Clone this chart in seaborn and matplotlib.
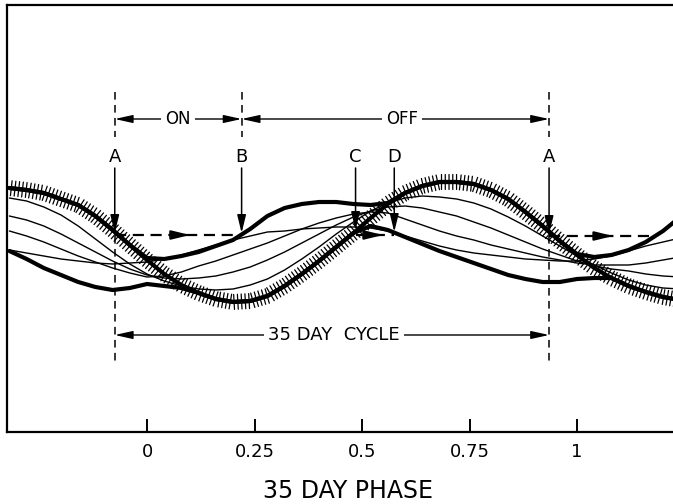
import numpy as np
import pandas as pd
import matplotlib
matplotlib.use("Agg")
import matplotlib.pyplot as plt
from matplotlib import patheffects as pe
import seaborn as sns

# ---------------- data ----------------
phase = [-0.32, -0.28, -0.24, -0.20, -0.16, -0.12, -0.08, -0.04, 0.00, 0.04,
         0.08, 0.12, 0.16, 0.20, 0.24, 0.28, 0.32, 0.36, 0.40, 0.44,
         0.48, 0.52, 0.56, 0.60, 0.64, 0.68, 0.72, 0.76, 0.80, 0.84,
         0.88, 0.92, 0.96, 1.00, 1.04, 1.08, 1.12, 1.16, 1.20, 1.24]

# hatched curve
hatched = [244, 242, 239, 233, 227, 216, 202, 187, 172, 158,
           147, 139, 133, 130, 131, 136, 146, 158, 171, 185,
           199, 214, 228, 239, 246, 250, 250, 248, 242, 233,
           220, 206, 191, 177, 164, 154, 146, 140, 135, 132]
# upper thick curve
upper = [244, 242, 239, 233, 227, 216, 202, 187, 174, 173,
         176, 180, 186, 192, 203, 216, 224, 228, 230, 230,
         228, 227, 229, 239, 246, 250, 250, 248, 242, 233,
         220, 206, 191, 178, 175, 177, 182, 190, 201, 215]
# lower thick curve
lower = [181, 173, 164, 157, 150, 145, 142, 144, 148, 146,
         144, 139, 133, 130, 131, 136, 146, 158, 171, 185,
         199, 206, 202, 195, 188, 181, 175, 169, 163, 157,
         153, 150, 150, 153, 154, 154, 146, 140, 135, 132]
# thin intermediate curves
thin1 = [234, 231, 225, 217, 206, 193, 180, 168, 158, 151,
         146, 143, 142, 143, 147, 153, 162, 173, 185, 198,
         210, 221, 229, 234, 236, 235, 233, 229, 223, 215,
         206, 196, 186, 176, 167, 159, 152, 147, 144, 143]
thin2 = [216, 212, 206, 198, 189, 180, 171, 163, 157, 154,
         153, 154, 156, 160, 165, 172, 180, 189, 198, 207,
         215, 221, 225, 226, 224, 220, 216, 210, 204, 197,
         190, 183, 177, 171, 166, 163, 161, 158, 156, 155]
thin3 = [201, 196, 190, 183, 176, 170, 164, 159, 155, 156,
         160, 166, 171, 177, 183, 189, 196, 203, 209, 214,
         218, 220, 219, 213, 207, 201, 196, 192, 187, 183,
         179, 175, 172, 169, 167, 167, 167, 169, 172, 175]
thin4 = [182, 179, 176, 173, 171, 169, 168, 169, 170, 173,
         177, 182, 187, 192, 196, 200, 201, 203, 204, 205,
         205, 204, 201, 196, 191, 186, 182, 179, 177, 175,
         173, 172, 171, 171, 173, 176, 181, 186, 190, 194]

tick_pos = [0, 0.25, 0.5, 0.75, 1]
tick_labels = ["0", "0.25", "0.5", "0.75", "1"]

# marker phases
pA1, pB, pC, pD, pA2 = -0.075, 0.22, 0.485, 0.575, 0.935

# ---------------- figure ----------------
sns.set_style("white")
plt.rcParams["font.family"] = ["DejaVu Sans"]
plt.rcParams["text.color"] = "black"
plt.rcParams["axes.labelcolor"] = "black"

df = pd.concat([
    pd.DataFrame({"phase": phase, "value": v, "curve": n})
    for n, v in [("thin1", thin1), ("thin2", thin2), ("thin3", thin3),
                 ("thin4", thin4), ("upper", upper), ("lower", lower),
                 ("hatched", hatched)]
], ignore_index=True)

fig = plt.figure(figsize=(6.73, 5.04), dpi=100)
ax = fig.add_axes([7 / 673, 72 / 504, 1.0131, 427 / 504])

for name in ["thin1", "thin2", "thin3", "thin4"]:
    sns.lineplot(data=df[df.curve == name], x="phase", y="value", color="black",
                 linewidth=1.0, ax=ax, legend=False, zorder=2)
for name in ["upper", "lower"]:
    sns.lineplot(data=df[df.curve == name], x="phase", y="value", color="black",
                 linewidth=3.0, ax=ax, legend=False, zorder=3,
                 solid_capstyle="round", solid_joinstyle="round")
sns.lineplot(data=df[df.curve == "hatched"], x="phase", y="value", color="black",
             linewidth=3.0, ax=ax, legend=False, zorder=4,
             solid_joinstyle="round")
ax.lines[-1].set_path_effects([
    pe.TickedStroke(angle=90, spacing=2.7, length=2.0, linewidth=0.9),
    pe.TickedStroke(angle=-90, spacing=2.7, length=2.0, linewidth=0.9),
    pe.Normal()])

ax.set_xlim(-0.3256, 1.26)
ax.set_ylim(0, 427)

# spines & ticks
for s in ["left", "bottom", "top"]:
    ax.spines[s].set_linewidth(1.6)
    ax.spines[s].set_color("black")
ax.spines["right"].set_visible(False)
ax.set_yticks([])
ax.set_xticks(tick_pos)
ax.set_xticklabels(tick_labels)
ax.tick_params(axis="x", direction="in", length=9.5, width=1.4, pad=8,
               labelsize=13, colors="black", bottom=True)
ax.set_xlabel("35 DAY PHASE", fontsize=17, labelpad=13, color="black")
ax.set_ylabel("")

# dashed verticals
dash = dict(color="black", lw=1.1, ls=(0, (5, 3.5)))
for p in [pA1, pA2]:
    ax.plot([p, p], [340, 295], **dash)
    ax.plot([p, p], [196, 70], **dash)
ax.plot([pB, pB], [340, 295], **dash)

ahead = "-|>,head_length=0.9,head_width=0.22"
# letters with arrows down
for p, lab, tip in [(pA1, "A", 199), (pB, "B", 199), (pC, "C", 202),
                    (pD, "D", 200), (pA2, "A", 198)]:
    ax.text(p, 275, lab, ha="center", va="center", fontsize=13, color="black")
    ax.annotate("", xy=(p, tip), xytext=(p, 264),
                arrowprops=dict(arrowstyle=ahead, color="black", lw=1.1,
                                shrinkA=0, shrinkB=0, mutation_scale=12))

# dashed horizontal arrows
for x0, x1, xh, yv in [(pA1, pB, 0.10, 197), (pC, pD, 0.549, 197),
                       (pA2, 1.174, 1.084, 196)]:
    ax.plot([x0, x1], [yv, yv], color="black", lw=1.6, ls=(0, (5, 3)))
    ax.annotate("", xy=(xh, yv), xytext=(xh - 0.02, yv),
                arrowprops=dict(arrowstyle=ahead, color="black", lw=1.6,
                                shrinkA=0, shrinkB=0, mutation_scale=12))

# dimension lines
dim = "<|-|>,head_length=0.9,head_width=0.2"
for x0, x1, yv, txt, xt, fs in [(pA1, pB, 313, "ON", 0.072, 12),
                                (pB, pA2, 313, "OFF", 0.593, 12),
                                (pA1, pA2, 97, "35 DAY  CYCLE", 0.435, 13)]:
    ax.annotate("", xy=(x1, yv), xytext=(x0, yv),
                arrowprops=dict(arrowstyle=dim, color="black", lw=1.0,
                                shrinkA=0, shrinkB=0, mutation_scale=12))
    ax.text(xt, yv, txt, ha="center", va="center", fontsize=fs, color="black",
            bbox=dict(facecolor="white", edgecolor="none", pad=3), zorder=5)

fig.savefig("out.png", dpi=100, facecolor="white")
